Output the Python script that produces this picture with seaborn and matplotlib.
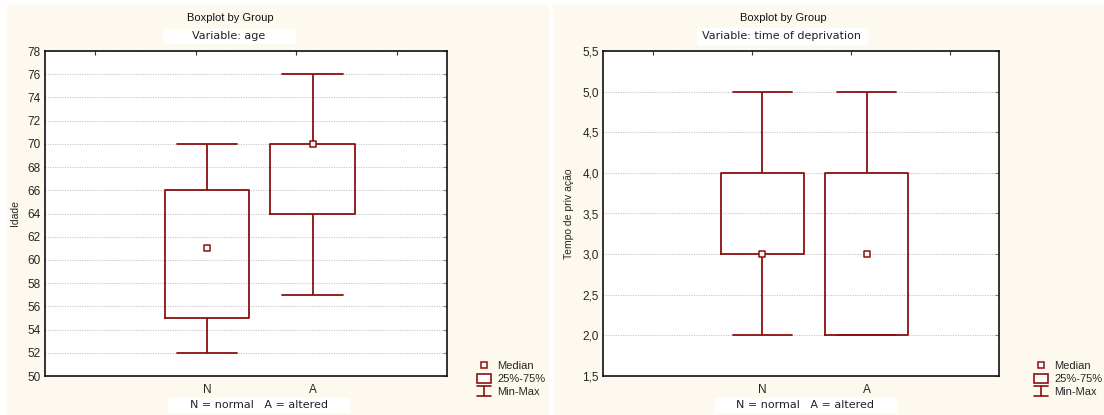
import matplotlib
matplotlib.use("Agg")
import matplotlib.pyplot as plt
import seaborn as sns
import pandas as pd
import numpy as np
from matplotlib.lines import Line2D
from matplotlib.patches import Rectangle, Patch
from matplotlib.legend_handler import HandlerBase
from matplotlib.ticker import FuncFormatter

# resumo de cinco numeros (min, Q1, mediana, Q3, max)
grupos = ["N", "A"]
idade_N = [52, 55, 61, 66, 70]
idade_A = [57, 64, 70, 70, 76]
tempo_N = [2, 3, 3, 4, 5]
tempo_A = [2, 2, 3, 4, 5]

titulo = "Boxplot by Group"
var_idade = "Variable: age"
var_tempo = "Variable: time of deprivation"
rotulo_grupos = "N = normal   A = altered"
ylabel_idade = "Idade"
ylabel_tempo = "Tempo de priv ação"

VERMELHO = "#8b1010"
CREME = "#fdf9ee"
W, H = 1104, 415


class HandlerMinMax(HandlerBase):
    def create_artists(self, legend, orig_handle, xdescent, ydescent,
                       width, height, fontsize, trans):
        cx = width / 2 - xdescent
        y0 = -ydescent
        y1 = height - ydescent
        hw = width / 2
        kw = dict(color=VERMELHO, lw=1.2, transform=trans)
        return [Line2D([cx - hw, cx + hw], [y1, y1], **kw),
                Line2D([cx, cx], [y0, y1], **kw),
                Line2D([cx - hw, cx + hw], [y0, y0], **kw)]


def painel(ax, valores_N, valores_A, ylim, passo, decimais):
    df = pd.DataFrame({"grupo": ["N"] * len(valores_N) + ["A"] * len(valores_A),
                       "valor": valores_N + valores_A})
    sns.boxplot(data=df, x="grupo", y="valor", order=grupos, ax=ax,
                whis=(0, 100), width=0.8, fill=False, color=VERMELHO,
                linewidth=1.3, showfliers=False,
                medianprops={"visible": False}, capwidths=0.57)
    med = df.groupby("grupo")["valor"].median().reindex(grupos).reset_index()
    sns.stripplot(data=med, x="grupo", y="valor", order=grupos, ax=ax,
                  jitter=False, marker="s", size=4.2, color="white",
                  edgecolor=VERMELHO, linewidth=1.1, zorder=5)
    ax.set_xlim(-1.53, 2.27)
    ax.set_ylim(*ylim)
    ax.set_xticks([-1, 0, 1, 2])
    ax.set_xticklabels(["", "N", "A", ""])
    ax.set_yticks(np.arange(ylim[0], ylim[1] + passo / 2, passo))
    if decimais:
        ax.yaxis.set_major_formatter(FuncFormatter(lambda v, p: f"{v:.1f}".replace(".", ",")))
    else:
        ax.yaxis.set_major_formatter(FuncFormatter(lambda v, p: f"{v:.0f}"))
    ax.set_xlabel("")
    ax.set_facecolor("white")
    ax.yaxis.grid(True, linestyle=(0, (1, 1.2)), color="#c4c4c4", linewidth=0.8)
    ax.xaxis.grid(False)
    ax.set_axisbelow(True)
    ax.tick_params(axis="x", direction="in", length=3, pad=6, labelsize=8.5,
                   color="#333333")
    ax.tick_params(axis="y", left=False, right=True, direction="in", length=3,
                   pad=3, labelsize=8.5, color="#888888")
    for s in ax.spines.values():
        s.set_visible(True)
        s.set_color("#111111")
        s.set_linewidth(1.2)
    # marcas no topo
    x0, x1 = ax.get_xlim()
    sec = ax.secondary_xaxis("top")
    sec.set_xticks([x0 + (x1 - x0) * f for f in (0.125, 0.375, 0.625, 0.875)])
    sec.set_xticklabels([])
    sec.tick_params(direction="in", length=3, color="#333333")
    sec.spines["top"].set_visible(False)


def caixa_texto(fig, x0, x1, y0, y1, texto):
    fig.patches.append(Rectangle((x0 / W, 1 - y1 / H), (x1 - x0) / W, (y1 - y0) / H,
                                 transform=fig.transFigure, color="white", zorder=-5))
    fig.text((x0 + x1) / 2 / W, 1 - (y0 + y1) / 2 / H, texto, ha="center",
             va="center", fontsize=8, family=["DejaVu Sans"], color="#222222")


sns.set_style("white")
plt.rcParams["font.family"] = ["Liberation Sans", "DejaVu Sans"]

fig = plt.figure(figsize=(11.04, 4.15), dpi=100, facecolor="white")
fig.patches.append(Rectangle((7 / W, 0), (548 - 7) / W, 1 - 5 / H,
                             transform=fig.transFigure, color=CREME, zorder=-10))
fig.patches.append(Rectangle((553 / W, 0), (1104 - 553) / W, 1 - 5 / H,
                             transform=fig.transFigure, color=CREME, zorder=-10))

ax1 = fig.add_axes([45 / W, 1 - 376 / H, 402 / W, 325 / H])
ax2 = fig.add_axes([603 / W, 1 - 376 / H, 396 / W, 325 / H])

painel(ax1, idade_N, idade_A, (50, 78), 2, False)
painel(ax2, tempo_N, tempo_A, (1.5, 5.5), 0.5, True)

ax1.set_ylabel(ylabel_idade, fontsize=7.5)
ax2.set_ylabel(ylabel_tempo, fontsize=7.5)
ax1.yaxis.set_label_coords(-25 / 402, 0.5)
ax2.yaxis.set_label_coords(-29 / 396, 0.5)

fig.text(230 / W, 1 - 18 / H, titulo, ha="center", va="center", fontsize=8,
         color="#111111")
fig.text(783 / W, 1 - 18 / H, titulo, ha="center", va="center", fontsize=8,
         color="#111111")
caixa_texto(fig, 163, 295, 29, 43, var_idade)
caixa_texto(fig, 697, 867, 28, 44, var_tempo)
caixa_texto(fig, 168, 349, 398, 412, rotulo_grupos)
caixa_texto(fig, 715, 896, 398, 412, rotulo_grupos)

h_med = Line2D([], [], marker="s", linestyle="none", markersize=4,
               markerfacecolor="white", markeredgecolor=VERMELHO, markeredgewidth=1.1)
h_box = Patch(facecolor="white", edgecolor=VERMELHO, linewidth=1.2)
h_mm = Line2D([], [])
for lx in (477, 1034):
    fig.legend([h_med, h_box, h_mm], ["Median", "25%-75%", "Min-Max"],
               handler_map={h_mm: HandlerMinMax()},
               loc="upper left", bbox_to_anchor=(lx / W, 1 - 361 / H),
               frameon=False, fontsize=8, handlelength=1.3, handleheight=0.9,
               handletextpad=0.5, labelspacing=0.2, borderpad=0, borderaxespad=0)

fig.savefig("out.png", dpi=100, facecolor="white")
plt.close(fig)
